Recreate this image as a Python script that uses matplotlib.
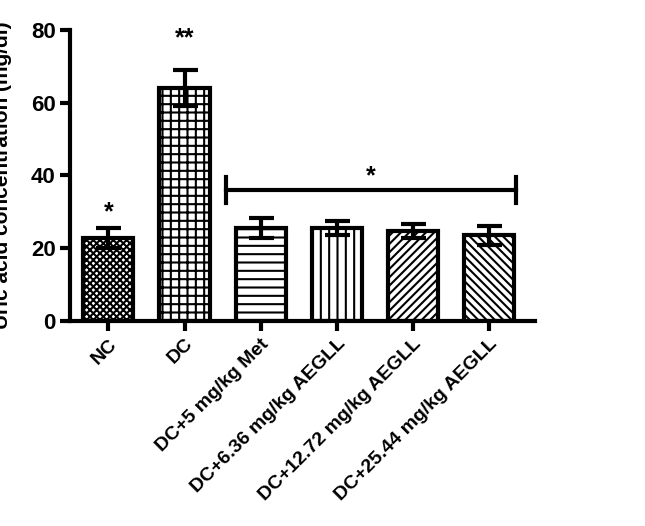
import matplotlib
matplotlib.use("Agg")
import matplotlib.pyplot as plt

plt.rcParams['font.family'] = 'Liberation Sans'
plt.rcParams['font.weight'] = 'bold'
plt.rcParams['hatch.linewidth'] = 1.5

categories = ["NC", "DC", "DC+5 mg/kg Met", "DC+6.36 mg/kg AEGLL",
              "DC+12.72 mg/kg AEGLL", "DC+25.44 mg/kg AEGLL"]
values = [22.8, 64.0, 25.6, 25.6, 24.7, 23.6]
errors = [2.7, 5.0, 2.8, 2.0, 2.0, 2.6]
hatches = ["xxxxx", "++", "--", "||", "////", "\\\\\\\\"]
yticks = [0, 20, 40, 60, 80]

fig = plt.figure(figsize=(6.45, 5.26), dpi=100)
ax = fig.add_axes([0.109, 0.39, 0.72, 0.553])
x = list(range(len(categories)))
for xi, v, e, h in zip(x, values, errors, hatches):
    ax.bar(xi, v, width=0.66, color='white', edgecolor='black', linewidth=3, hatch=h, zorder=2)
    ax.errorbar(xi, v, yerr=e, fmt='none', ecolor='black', elinewidth=3, capsize=9, capthick=3, zorder=3)

ax.set_xlim(-0.5, 5.6)
ax.set_ylim(0, 80)
ax.set_yticks(yticks)
ax.set_xticks(x)
ax.set_xticklabels(categories, rotation=45, ha='right', rotation_mode='anchor', fontsize=14, fontweight='bold')
ax.tick_params(axis='y', labelsize=16, width=3, length=7)
ax.tick_params(axis='x', width=3, length=7)
for s in ['top', 'right']:
    ax.spines[s].set_visible(False)
for s in ['left', 'bottom']:
    ax.spines[s].set_linewidth(3)
ax.set_ylabel("Uric acid concentration (mg/dl)", fontsize=15, fontweight='bold')
ax.yaxis.set_label_coords(-0.125, 0.5)

# significance marks
ax.text(0, 26.5, "*", ha='center', va='bottom', fontsize=18, fontweight='bold')
ax.text(1, 74.5, "**", ha='center', va='bottom', fontsize=18, fontweight='bold')
ax.plot([1.55, 5.35], [36, 36], color='black', lw=3)
ax.plot([1.55, 1.55], [32.4, 39.5], color='black', lw=3)
ax.plot([5.35, 5.35], [32.4, 39.5], color='black', lw=3)
ax.text(3.45, 36.5, "*", ha='center', va='bottom', fontsize=18, fontweight='bold')

fig.savefig("out.png", dpi=100)
